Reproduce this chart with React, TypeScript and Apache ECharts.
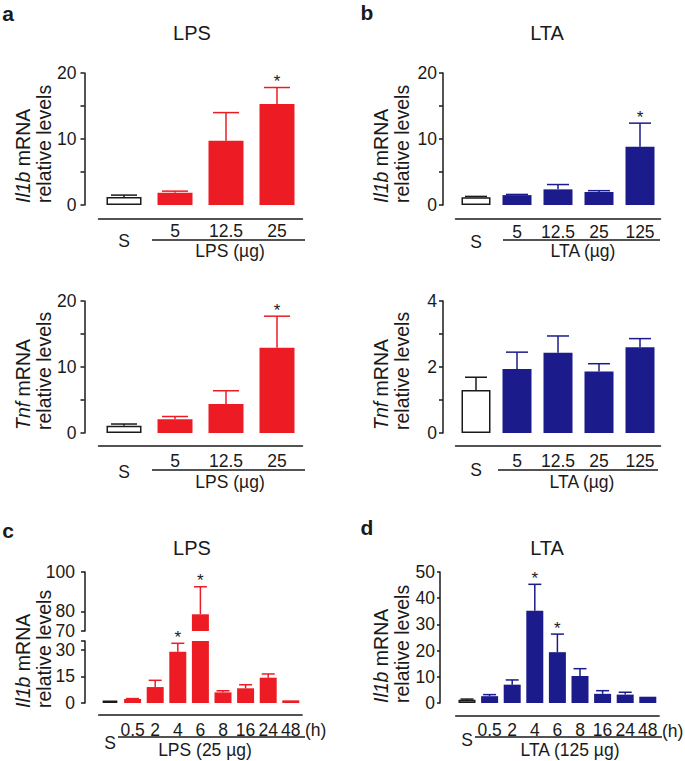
import React, { useEffect, useRef } from 'react';
import * as echarts from 'echarts';

const FONT = '"Liberation Sans", Arial, Helvetica, sans-serif';
const INK = '#1a1a1a';
const RED = '#ED1C24';
const BLUE = '#1B1B8C';
const TICK_FS = 17.5;
const TITLE_FS = 20;
const NAME_FS = 19.5;

// categories
const doseLps = ['S', '5', '12.5', '25'];
const doseLta = ['S', '5', '12.5', '25', '125'];
const hours = ['S', '0.5', '2', '4', '6', '8', '16', '24', '48'];

// a (top): Il1b, LPS dose
const il1bLpsMean = [1.2, 1.87, 9.75, 15.3];
const il1bLpsTop = [1.5, 2.1, 14.0, 17.8];
const il1bLpsSig = [0, 0, 0, 1];
// b (top): Il1b, LTA dose
const il1bLtaMean = [1.16, 1.5, 2.37, 1.97, 8.84];
const il1bLtaTop = [1.3, 1.6, 3.1, 2.17, 12.4];
const il1bLtaSig = [0, 0, 0, 0, 1];
// a (bottom): Tnf, LPS dose
const tnfLpsMean = [1.1, 2.07, 4.4, 12.9];
const tnfLpsTop = [1.36, 2.5, 6.4, 17.7];
const tnfLpsSig = [0, 0, 0, 1];
// b (bottom): Tnf, LTA dose
const tnfLtaMean = [1.3, 1.94, 2.43, 1.86, 2.6];
const tnfLtaTop = [1.69, 2.45, 2.94, 2.1, 2.86];
const tnfLtaSig = [0, 0, 0, 0, 0];
// c: Il1b, LPS time course
const timeLpsMean = [1.3, 2.2, 9.0, 29.0, 78.5, 6.0, 8.3, 14.3, 1.5];
const timeLpsTop = [1.3, 2.5, 12.8, 33.7, 92.5, 6.9, 10.3, 16.4, 1.5];
const timeLpsSig = [0, 0, 0, 1, 1, 0, 0, 0, 0];
// d: Il1b, LTA time course
const timeLtaMean = [1.2, 2.6, 7.0, 35.2, 19.4, 10.3, 3.5, 3.2, 2.4];
const timeLtaTop = [1.5, 3.2, 8.8, 45.3, 26.3, 13.1, 4.7, 4.1, 2.4];
const timeLtaSig = [0, 0, 0, 1, 1, 0, 0, 0, 0];

// tick values
const ticks20 = [0, 5, 10, 15, 20];
const labels20 = [0, 10, 20];
const ticks4 = [0, 1, 2, 3, 4];
const labels4 = [0, 2, 4];
const ticksUpper = [70, 80, 100];
const ticksLower = [0, 15, 30, 35];
const labelsLower = [0, 15, 30];
const ticks50 = [0, 10, 20, 30, 40, 50];

const txt = (size: number, extra: any = {}) => ({ fontSize: size, fontFamily: FONT, color: INK, ...extra });

function catAxis(gridIndex: number, data: string[], offset: number, margin: number, sPad: number, show = true) {
  return {
    gridIndex,
    type: 'category',
    data,
    show,
    offset,
    axisLine: { show: true, onZero: false, lineStyle: { color: INK, width: 1.5 } },
    axisTick: { show: false },
    splitLine: { show: false },
    axisLabel: {
      interval: 0,
      margin,
      formatter: (v: string) => (v === 'S' ? '{s|S}' : '{n|' + v + '}'),
      rich: {
        s: { ...txt(TICK_FS), padding: [sPad, 0, 0, 0] },
        n: txt(TICK_FS),
      },
    },
  };
}

function valAxis(gridIndex: number, min: number, max: number, tickVals: number[], labelVals: number[], offset: number, margin: number, tickLen = 4) {
  return {
    gridIndex,
    type: 'value',
    min,
    max,
    offset,
    splitLine: { show: false },
    axisLine: { show: true, lineStyle: { color: INK, width: 1.5 } },
    axisTick: { show: true, inside: false, length: tickLen, customValues: tickVals, lineStyle: { color: INK, width: 1.5 } },
    axisLabel: { customValues: labelVals, margin, ...txt(TICK_FS) },
  };
}

function bars(xi: number, vals: (number | string)[], color: string, width: number, sBorder = 1.5) {
  return {
    type: 'bar',
    xAxisIndex: xi,
    yAxisIndex: xi,
    barWidth: width,
    clip: true,
    z: 2,
    data: vals.map((v, i) => ({
      value: v,
      itemStyle: i === 0 ? { color: '#ffffff', borderColor: INK, borderWidth: sBorder } : { color },
    })),
  };
}

function errs(xi: number, means: number[], tops: number[], sigs: number[], color: string, capW: number, keep: (m: number, t: number) => boolean) {
  const data: number[][] = [];
  means.forEach((m, i) => {
    if (keep(m, tops[i])) data.push([i, tops[i], m, sigs[i]]);
  });
  return {
    type: 'custom',
    xAxisIndex: xi,
    yAxisIndex: xi,
    z: 3,
    encode: { x: 0, y: 1 },
    data,
    renderItem: (params: any, api: any) => {
      const idx = api.value(0) as number;
      const top = api.value(1) as number;
      const mean = api.value(2) as number;
      const sig = api.value(3) as number;
      const pTop = api.coord([idx, top]);
      const pBase = api.coord([idx, mean]);
      const c = idx === 0 ? INK : color;
      const children: any[] = [];
      if (top > mean) {
        children.push({
          type: 'line',
          shape: { x1: pTop[0], y1: pBase[1], x2: pTop[0], y2: pTop[1] },
          style: { stroke: c, lineWidth: 1.5 },
        });
        children.push({
          type: 'line',
          shape: { x1: pTop[0] - capW / 2, y1: pTop[1], x2: pTop[0] + capW / 2, y2: pTop[1] },
          style: { stroke: c, lineWidth: 1.5 },
        });
      }
      if (sig) {
        children.push({
          type: 'text',
          x: pTop[0],
          y: pTop[1] - 6,
          style: { text: '*', fontSize: 17, fontFamily: FONT, fill: INK, align: 'center', verticalAlign: 'middle' },
        });
      }
      return { type: 'group', children };
    },
  };
}

function gText(x: number, y: number, text: string, size: number, extra: any = {}) {
  return {
    type: 'text',
    x,
    y,
    style: { text, fontSize: size, fontFamily: FONT, fill: INK, align: 'center', verticalAlign: 'middle', ...extra },
  };
}

function gLine(x1: number, y1: number, x2: number, y2: number) {
  return { type: 'line', shape: { x1, y1, x2, y2 }, style: { stroke: INK, lineWidth: 1.5 } };
}

function yName(x: number, y: number, gene: string) {
  return {
    type: 'text',
    x,
    y,
    rotation: Math.PI / 2,
    style: {
      text: '{i|' + gene + '}{n| mRNA}\n{n|relative levels}',
      align: 'left',
      verticalAlign: 'middle',
      fill: INK,
      rich: {
        i: { fontSize: NAME_FS, fontFamily: FONT, fontStyle: 'italic', fill: INK, lineHeight: 21 },
        n: { fontSize: NAME_FS, fontFamily: FONT, fill: INK, lineHeight: 21 },
      },
    },
  };
}

export default function App() {
  const ref = useRef<HTMLDivElement>(null);
  useEffect(() => {
    if (!ref.current) return;
    const chart = echarts.init(ref.current, undefined, { renderer: 'svg' });
    const upperLps = timeLpsMean.map((v) => (v >= 70 ? v : '-'));
    const option: any = {
      animation: false,
      backgroundColor: '#ffffff',
      grid: [
        { left: 98.5, top: 73, width: 204, height: 132 }, // 0 a top
        { left: 455.5, top: 73, width: 205, height: 132 }, // 1 b top
        { left: 98.5, top: 301, width: 204, height: 132 }, // 2 a bottom
        { left: 455.5, top: 301, width: 205, height: 132 }, // 3 b bottom
        { left: 98.7, top: 572, width: 203.4, height: 59 }, // 4 c upper
        { left: 98.7, top: 641, width: 203.4, height: 62 }, // 5 c lower
        { left: 455.7, top: 572, width: 203.4, height: 131 }, // 6 d
      ],
      xAxis: [
        catAxis(0, doseLps, 14, 3, 10),
        catAxis(1, doseLta, 14, 3.5, 10),
        catAxis(2, doseLps, 13, 6, 11),
        catAxis(3, doseLta, 13, 6, 9),
        catAxis(4, hours, 0, 0, 0, false),
        catAxis(5, hours, 12, 6, 13),
        catAxis(6, hours, 13, 5, 10),
      ],
      yAxis: [
        valAxis(0, 0, 20, ticks20, labels20, 14, 8),
        valAxis(1, 0, 20, ticks20, labels20, 12.5, 6),
        valAxis(2, 0, 20, ticks20, labels20, 14, 8),
        valAxis(3, 0, 4, ticks4, labels4, 12.5, 6),
        valAxis(4, 70, 100, ticksUpper, ticksUpper, 13.7, 10),
        valAxis(5, 0, 35, ticksLower, labelsLower, 13.7, 10),
        valAxis(6, 0, 50, ticks50, ticks50, 15.7, 5, 3),
      ],
      series: [
        bars(0, il1bLpsMean, RED, 35),
        errs(0, il1bLpsMean, il1bLpsTop, il1bLpsSig, RED, 26, () => true),
        bars(1, il1bLtaMean, BLUE, 29),
        errs(1, il1bLtaMean, il1bLtaTop, il1bLtaSig, BLUE, 22, () => true),
        bars(2, tnfLpsMean, RED, 35),
        errs(2, tnfLpsMean, tnfLpsTop, tnfLpsSig, RED, 26, () => true),
        bars(3, tnfLtaMean, BLUE, 29),
        errs(3, tnfLtaMean, tnfLtaTop, tnfLtaSig, BLUE, 22, () => true),
        bars(4, upperLps, RED, 17, 2.5),
        errs(4, timeLpsMean, timeLpsTop, timeLpsSig, RED, 13, (m) => m >= 70),
        bars(5, timeLpsMean, RED, 17, 2.5),
        errs(5, timeLpsMean, timeLpsTop, timeLpsSig, RED, 13, (m, t) => t <= 35),
        bars(6, timeLtaMean, BLUE, 17),
        errs(6, timeLtaMean, timeLtaTop, timeLtaSig, BLUE, 13, () => true),
      ],
      graphic: [
        gText(8, 13, 'a', 21, { fontWeight: 'bold' }),
        gText(367, 12, 'b', 21, { fontWeight: 'bold' }),
        gText(8, 530, 'c', 21, { fontWeight: 'bold' }),
        gText(367, 527, 'd', 21, { fontWeight: 'bold' }),
        gText(192, 33, 'LPS', TITLE_FS),
        gText(547, 33, 'LTA', TITLE_FS),
        gText(192, 548, 'LPS', TITLE_FS),
        gText(547, 548, 'LTA', TITLE_FS),
        yName(33, 203, 'Il1b'),
        yName(391, 203, 'Il1b'),
        yName(33, 430, 'Tnf'),
        yName(391, 430, 'Tnf'),
        yName(33, 708, 'Il1b'),
        yName(391, 703, 'Il1b'),
        gLine(152, 240, 305, 240),
        gText(230, 251, 'LPS (µg)', TICK_FS),
        gLine(503, 240, 660, 240),
        gText(583, 251, 'LTA (µg)', TICK_FS),
        gLine(152, 470, 305, 470),
        gText(230, 482, 'LPS (µg)', TICK_FS),
        gLine(498, 470, 658, 470),
        gText(582, 482, 'LTA (µg)', TICK_FS),
        gLine(118, 737, 305, 737),
        gText(205, 750, 'LPS (25 µg)', TICK_FS),
        gText(305, 730, '(h)', TICK_FS, { align: 'left' }),
        gLine(475, 737, 662, 737),
        gText(570, 750, 'LTA (125 µg)', TICK_FS),
        gText(662, 731, '(h)', TICK_FS, { align: 'left' }),
      ],
    };
    chart.setOption(option);
    return () => chart.dispose();
  }, []);
  return (
    <div
      ref={ref}
      style={{ position: 'fixed', left: 0, top: 0, width: 685, height: 761, background: '#ffffff' }}
    />
  );
}
